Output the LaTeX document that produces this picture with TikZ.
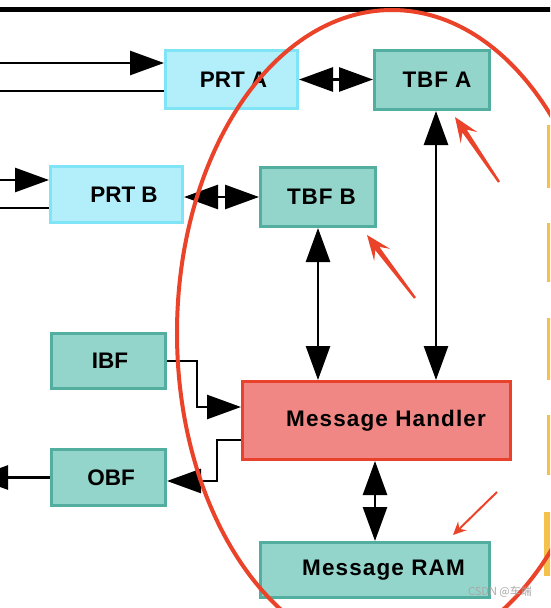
\documentclass[tikz,border=0pt]{standalone}
\usepackage{fontspec}
\setmainfont{Liberation Sans}
\newfontfamily\cjkfont{Noto Sans CJK SC}
\usetikzlibrary{arrows.meta,calc}
\definecolor{tealfill}{HTML}{93D5CB}
\definecolor{tealdraw}{HTML}{52AF9F}
\definecolor{cyanfill}{HTML}{B3EEFB}
\definecolor{cyandraw}{HTML}{80E4F7}
\definecolor{mhfill}{HTML}{F08784}
\definecolor{mhdraw}{HTML}{E8412C}
\definecolor{ringred}{HTML}{EA4329}
\definecolor{yel}{HTML}{F4C14D}
\definecolor{wmgray}{HTML}{A8A8A8}
% tapered red pointer: #1 tail coordinate, #2 tip coordinate
\newcommand\notearrow[2]{%
  \fill[ringred]
    ($(#1)!1.2pt!90:(#2)$) --
    ($($(#2)!17pt!(#1)$)!2.6pt!90:(#2)$) --
    ($($(#2)!25pt!(#1)$)!10pt!90:(#2)$) --
    (#2) --
    ($($(#2)!25pt!(#1)$)!10pt!-90:(#2)$) --
    ($($(#2)!17pt!(#1)$)!2.6pt!-90:(#2)$) --
    ($(#1)!1.2pt!-90:(#2)$) -- cycle;}
\begin{document}
\begin{tikzpicture}[x=1pt,y=-1pt,
  box/.style={rectangle, line width=3pt, inner sep=0pt,
    font=\fontsize{22.5}{24}\selectfont\bfseries},
  tealbox/.style={box, fill=tealfill, draw=tealdraw},
  cyanbox/.style={box, fill=cyanfill, draw=cyandraw},
  redbox/.style={box, fill=mhfill, draw=mhdraw},
  conn/.style={line width=2.7pt, draw=black},
  tip/.tip={Triangle[length=34pt,width=24pt]},
  arr/.style={conn, -tip},
  dbl/.style={conn, tip-tip},
  ring/.style={draw=ringred, line width=4pt},
  notethin/.style={draw=ringred, line width=2pt, -{Stealth[length=13pt,width=12pt]}},
  bar/.style={fill=yel},
  topline/.style={draw=black, line width=5.5pt}
]
\useasboundingbox (0,0) rectangle (550,608);
\clip (0,0) rectangle (550,608);

% top rule
\coordinate (tl) at (-5,9.5);
\coordinate (tr) at (555,9.5);
\draw[topline] (tl) -- (tr);

% yellow bars at right edge
\fill[bar] (547,125) rectangle (560,188);
\fill[bar] (547,223) rectangle (560,282);
\fill[bar] (547,318) rectangle (560,380);
\fill[bar] (547,415) rectangle (560,475);
\fill[bar] (544,512) rectangle (560,576);

% boxes
\node[cyanbox, minimum width=132pt, minimum height=58pt] (prta) at (231.5,79.5) {\hspace*{4pt}PRT A};
\node[tealbox, minimum width=115pt, minimum height=59pt] (tbfa) at (432,80) {\hspace*{10pt}\addfontfeature{LetterSpace=4}TBF A};
\node[cyanbox, minimum width=132pt, minimum height=56pt] (prtb) at (116.5,194.5) {\hspace*{15pt}PRT B};
\node[tealbox, minimum width=115pt, minimum height=59pt] (tbfb) at (318,197) {\hspace*{7pt}\addfontfeature{LetterSpace=4}TBF B};
\node[tealbox, minimum width=114pt, minimum height=55pt] (ibf) at (108.5,361) {\hspace*{3pt}IBF};
\node[tealbox, minimum width=114pt, minimum height=56pt] (obf) at (108.5,477.5) {\hspace*{5pt}OBF};
\node[redbox, minimum width=268pt, minimum height=78pt] (mh) at (376.5,420.5) {\hspace*{19pt}\addfontfeature{LetterSpace=5}Message Handler};
\node[tealbox, minimum width=229pt, minimum height=55pt] (ram) at (375,570) {\hspace*{17pt}\addfontfeature{LetterSpace=5}Message RAM};

% external inputs / outputs
\coordinate (inA1) at (-5,63);
\coordinate (inA2) at (-5,91);
\coordinate (inB1) at (-5,180);
\coordinate (inB2) at (-5,208);
\coordinate (outO) at (-26,477.5);
\draw[arr] (inA1) -- (inA1 -| prta.west);
\draw[conn] (inA2) -- (inA2 -| prta.west);
\draw[arr] (inB1) -- (inB1 -| prtb.west);
\draw[conn] (inB2) -- (inB2 -| prtb.west);
\draw[arr] (obf.west) -- (outO);

% internal connectors
\draw[dbl] (prta.east) -- (prta.east -| tbfa.west);
\draw[dbl] (tbfb.west -| prtb.east) -- (tbfb.west);
\draw[dbl] (tbfb.south) -- (tbfb.south |- mh.north);
\draw[dbl] ([xshift=4pt]tbfa.south) -- ([xshift=4pt]tbfa.south |- mh.north);
\draw[dbl] (ram.north |- mh.south) -- (ram.north);
\draw[arr] (ibf.east) -- ++(30,0) |- ([yshift=13.5pt]mh.west);
\draw[arr] ([yshift=-19.5pt]mh.west) -- ++(-24,0) |- ([yshift=-3.5pt]obf.east);

% red annotation ring
\coordinate (rc) at (392,333);
\draw[ring] (rc) ellipse [x radius=215pt, y radius=323pt];

% red annotation arrows
\coordinate (n1s) at (499,182);
\coordinate (n1e) at (455,117);
\coordinate (n2s) at (415,298);
\coordinate (n2e) at (367,235);
\coordinate (n3s) at (497,492);
\coordinate (n3e) at (453,535);
\notearrow{n1s}{n1e}
\notearrow{n2s}{n2e}
\draw[notethin] (n3s) -- (n3e);

% watermark
\node[text=wmgray, font=\cjkfont\fontsize{11}{12}\selectfont, inner sep=0pt] (wm) at (500,592) {CSDN @车端};
\end{tikzpicture}
\end{document}
